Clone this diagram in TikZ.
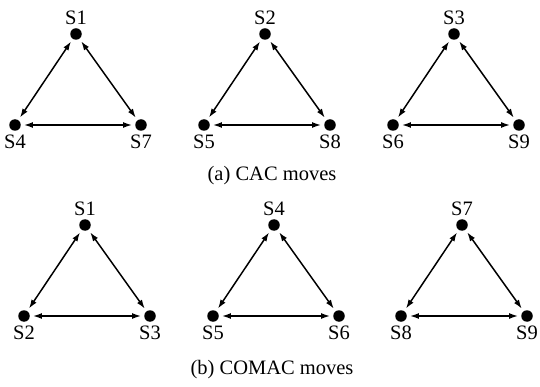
\documentclass[tikz,border=0pt]{standalone}
\usepackage{fontspec}
\setmainfont{Liberation Serif}
\usetikzlibrary{arrows.meta,positioning}

\begin{document}
\begin{tikzpicture}[
  x=1pt,y=1pt,
  node distance=91pt and 62pt,on grid,
  font=\fontsize{20.5}{24}\selectfont,
  site/.style={circle,fill=black,inner sep=0pt,minimum size=11.5pt,
    label distance=4pt},
  arrow/.style={{Latex[length=9pt,width=6pt]}-{Latex[length=9pt,width=6pt]},
    line width=1.5pt,shorten >=3pt,shorten <=3pt},
  caption/.style={inner sep=0pt}
]
  \useasboundingbox (0,0) rectangle (540,-387);

  % (a) CAC moves: one triangle per column
  \node[site,label=above:S1] (cac1) at (76,-34) {};
  \node[site,label=below:S4,below left=91pt and 61pt of cac1] (cac4) {};
  \node[site,label=below:S7,below right=91pt and 65pt of cac1] (cac7) {};

  \node[site,label=above:S2] (cac2) at (265,-34) {};
  \node[site,label=below:S5,below left=91pt and 61pt of cac2] (cac5) {};
  \node[site,label=below:S8,below right=91pt and 65pt of cac2] (cac8) {};

  \node[site,label=above:S3] (cac3) at (454,-34) {};
  \node[site,label=below:S6,below left=91pt and 61pt of cac3] (cac6) {};
  \node[site,label=below:S9,below right=91pt and 65pt of cac3] (cac9) {};

  \node[caption] (capa) at (272,-176) {(a) CAC moves};

  % (b) COMAC moves: same triangles, sites regrouped by row
  \node[site,label=above:S1] (comac1) at (85,-225) {};
  \node[site,label=below:S2,below left=91pt and 61pt of comac1] (comac2) {};
  \node[site,label=below:S3,below right=91pt and 65pt of comac1] (comac3) {};

  \node[site,label=above:S4] (comac4) at (274,-225) {};
  \node[site,label=below:S5,below left=91pt and 61pt of comac4] (comac5) {};
  \node[site,label=below:S6,below right=91pt and 65pt of comac4] (comac6) {};

  \node[site,label=above:S7] (comac7) at (462,-225) {};
  \node[site,label=below:S8,below left=91pt and 61pt of comac7] (comac8) {};
  \node[site,label=below:S9,below right=91pt and 65pt of comac7] (comac9) {};

  \node[caption] (capb) at (272,-370) {(b) COMAC moves};

  \draw[arrow] (cac1) -- (cac4);
  \draw[arrow] (cac1) -- (cac7);
  \draw[arrow] (cac4) -- (cac7);
  \draw[arrow] (cac2) -- (cac5);
  \draw[arrow] (cac2) -- (cac8);
  \draw[arrow] (cac5) -- (cac8);
  \draw[arrow] (cac3) -- (cac6);
  \draw[arrow] (cac3) -- (cac9);
  \draw[arrow] (cac6) -- (cac9);

  \draw[arrow] (comac1) -- (comac2);
  \draw[arrow] (comac1) -- (comac3);
  \draw[arrow] (comac2) -- (comac3);
  \draw[arrow] (comac4) -- (comac5);
  \draw[arrow] (comac4) -- (comac6);
  \draw[arrow] (comac5) -- (comac6);
  \draw[arrow] (comac7) -- (comac8);
  \draw[arrow] (comac7) -- (comac9);
  \draw[arrow] (comac8) -- (comac9);
\end{tikzpicture}
\end{document}
